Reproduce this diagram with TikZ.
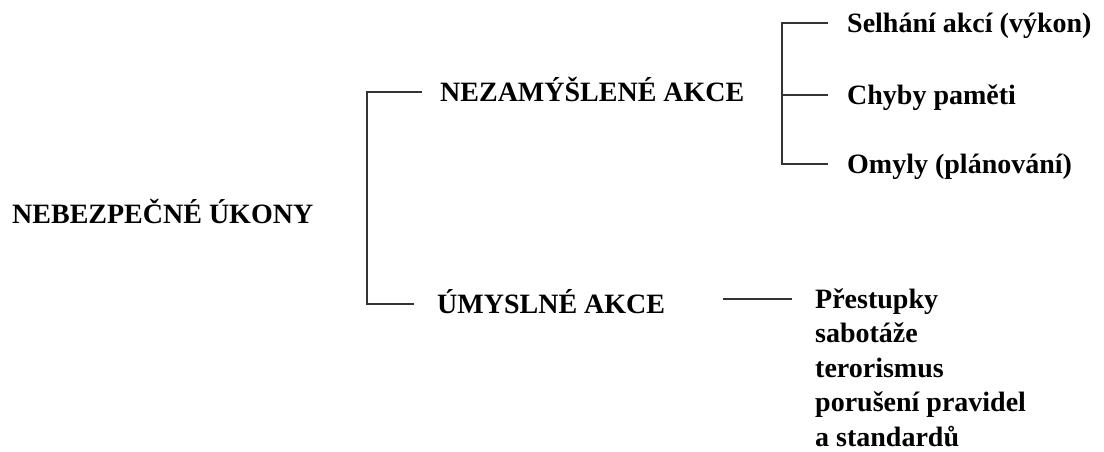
\documentclass[tikz,border=0pt]{standalone}
\usepackage{fontspec}
\setmainfont{Liberation Serif}

\begin{document}
\begin{tikzpicture}[
            x = 1pt, y = -1pt,
            heading/.style = {font = \bfseries\fontsize{28}{35}\selectfont, inner sep = 0pt,
                              anchor = west, text height = 18.5pt, text depth = 0pt},
            branch/.style = {line width = 1.9pt, draw = black!80}
            ]
            \useasboundingbox (0,0) rectangle (1104,452);
            \node[heading] (root) at (12,214) {NEBEZPEČNÉ ÚKONY};
            \node[heading] (nez) at (440,92) {NEZAMÝŠLENÉ AKCE};
            \node[heading] (umy) at (437,304) {ÚMYSLNÉ AKCE};
            \node[heading] (sel) at (847,23) {Selhání akcí (výkon)};
            \node[heading] (chy) at (847,95) {Chyby paměti};
            \node[heading] (omy) at (847,164) {Omyly (plánování)};
            \foreach \txt [count = \i] in {Přestupky, sabotáže, terorismus,
                                           porušení pravidel, a standardů}
                \node[heading] (pre-\i) at (815,264.5+34.5*\i) {\txt};
            % spines of the brackets
            \coordinate (spine1) at (367,0);
            \coordinate (spine2) at (782,0);
            \draw[branch] ([xshift=-18pt]nez.west) -| (spine1 |- umy.west) -- ([xshift=-23pt]umy.west);
            \draw[branch] ([xshift=-19pt]sel.west) -| (spine2 |- omy.west) -- ([xshift=-19pt]omy.west);
            \draw[branch] (spine2 |- chy.west) -- ([xshift=-19pt]chy.west);
            \draw[branch] (pre-1.west) ++(-92pt,0) -- ++(69pt,0);
          \end{tikzpicture}
\end{document}
